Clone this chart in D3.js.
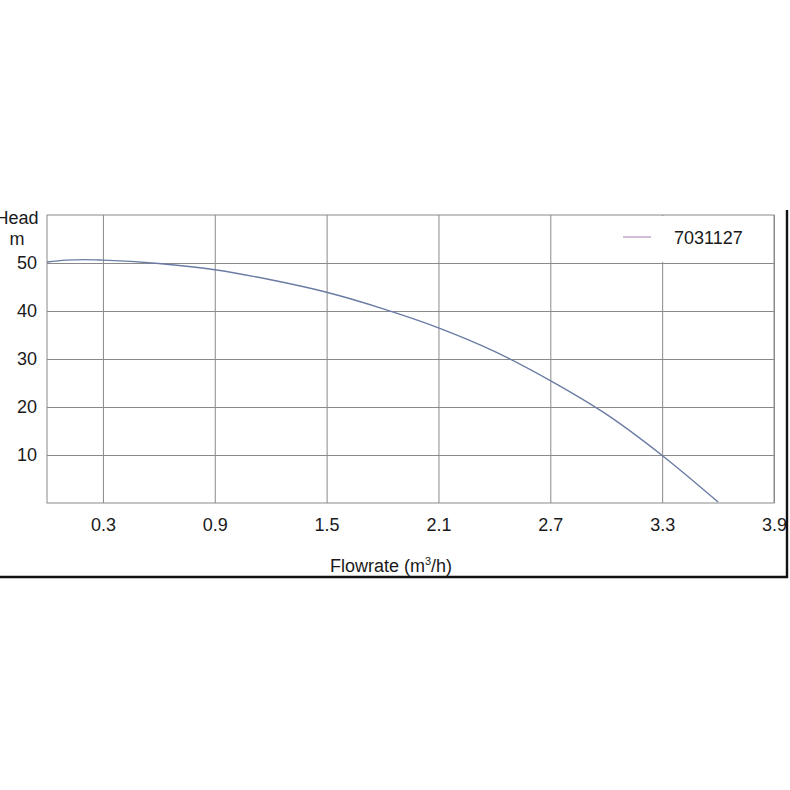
<!DOCTYPE html>
<html>
<head>
<meta charset="utf-8">
<script src="https://cdn.jsdelivr.net/npm/d3@7"></script>
<style>
  html, body { margin: 0; padding: 0; background: #fff; }
  svg text { font-family: "Liberation Sans", Arial, sans-serif; fill: #1a1a1a; }
</style>
</head>
<body>
<div id="chart"></div>
<script>
// pump curve 7031127
const flowrate = [0, 0.1, 0.2, 0.3, 0.6, 0.9, 1.2, 1.5, 1.8, 2.1, 2.4, 2.7, 3.0, 3.3, 3.6]
const head = [50.2, 50.6, 50.7, 50.6, 49.9, 48.6, 46.5, 43.9, 40.5, 36.5, 31.6, 25.5, 18.5, 9.9, 0.2]
const xTicks = [0.3, 0.9, 1.5, 2.1, 2.7, 3.3, 3.9]
const yTicks = [10, 20, 30, 40, 50]
const seriesName = '7031127'

const W = 790, H = 790
const FS = 18
const margin = {left: 47, top: 215, right: 16, bottom: 287}
const w = W - margin.left - margin.right
const h = H - margin.top - margin.bottom

const svg = d3.select('#chart').append('svg')
  .attr('width', W)
  .attr('height', H)

const g = svg.append('g')
  .attr('transform', `translate(${margin.left},${margin.top})`)

const x = d3.scaleLinear().domain([0, 3.9]).range([0, w])
const y = d3.scaleLinear().domain([0, 60]).range([h, 0])

// grid via axes
const xAxis = g.append('g')
  .attr('transform', `translate(0,${h})`)
  .call(d3.axisBottom(x).tickValues(xTicks).tickSize(-h).tickPadding(15).tickFormat(d3.format('.1f')))
const yAxis = g.append('g')
  .call(d3.axisLeft(y).tickValues(yTicks).tickSize(-w).tickPadding(10).tickFormat(d3.format('d')))

;[xAxis, yAxis].forEach(a => {
  a.select('.domain').remove()
  a.selectAll('line').attr('stroke', '#8a8a8a').attr('stroke-width', 1)
  a.selectAll('text').attr('font-size', FS).attr('fill', '#1a1a1a')
    .style('font-family', '"Liberation Sans", Arial, sans-serif')
})
xAxis.selectAll('text').attr('dy', '0.71em')

// frame
g.append('rect')
  .attr('width', w)
  .attr('height', h)
  .attr('fill', 'none')
  .attr('stroke', '#8a8a8a')

// legend box (hides grid behind it)
const legend = g.append('g').attr('transform', `translate(${w - 174},1)`)
legend.append('rect')
  .attr('width', 173)
  .attr('height', y(50) - 2)
  .attr('fill', '#fff')
legend.append('line')
  .attr('x1', 23).attr('x2', 51)
  .attr('y1', 21).attr('y2', 21)
  .attr('stroke', '#b592c4')
  .attr('stroke-width', 1.2)
legend.append('text')
  .attr('x', 74).attr('y', 28)
  .attr('font-size', FS)
  .text(seriesName)

// curve
const line = d3.line()
  .x((d, i) => x(flowrate[i]))
  .y(d => y(d))
  .curve(d3.curveMonotoneX)
g.append('path')
  .datum(head)
  .attr('d', line)
  .attr('fill', 'none')
  .attr('stroke', '#6a7ca4')
  .attr('stroke-width', 1.4)

// axis titles
svg.append('text')
  .attr('x', 17).attr('y', 224)
  .attr('text-anchor', 'middle')
  .attr('font-size', FS)
  .text('Head')
svg.append('text')
  .attr('x', 17).attr('y', 245)
  .attr('text-anchor', 'middle')
  .attr('font-size', FS)
  .text('m')
const xt = svg.append('text')
  .attr('x', 391).attr('y', 572)
  .attr('text-anchor', 'middle')
  .attr('font-size', FS)
xt.append('tspan').text('Flowrate (m')
xt.append('tspan').attr('font-size', 11).attr('dy', -7).text('3')
xt.append('tspan').attr('dy', 7).text('/h)')

// outer black border (right and bottom), clipping what's past it
svg.append('rect')
  .attr('x', 788).attr('y', 0)
  .attr('width', 10).attr('height', H)
  .attr('fill', '#fff')
svg.append('line')
  .attr('x1', 787).attr('x2', 787)
  .attr('y1', 210).attr('y2', 578)
  .attr('stroke', '#111')
  .attr('stroke-width', 2.4)
svg.append('line')
  .attr('x1', 0).attr('x2', 788)
  .attr('y1', 577).attr('y2', 577)
  .attr('stroke', '#111')
  .attr('stroke-width', 2.4)
</script>
</body>
</html>
